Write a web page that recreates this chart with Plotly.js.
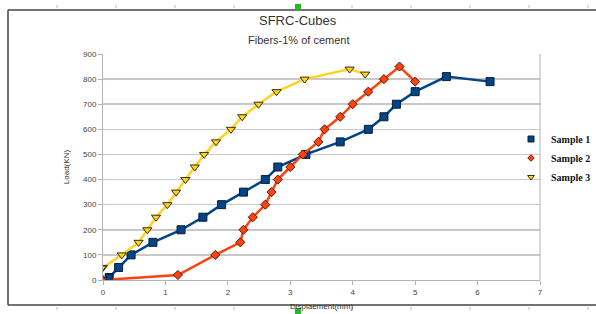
<!DOCTYPE html>
<html><head><meta charset="utf-8">
<script src="https://cdn.plot.ly/plotly-3.0.1.min.js"></script>
<style>html,body{margin:0;padding:0;background:#fff;}#chart{width:596px;height:314px;}</style>
</head><body><div id="chart"></div>
<script>
// Data
const seriesNames = ["Sample 1", "Sample 2", "Sample 3"];
const sample1X = [0.1, 0.25, 0.45, 0.8, 1.25, 1.6, 1.9, 2.25, 2.6, 2.8, 3.25, 3.8, 4.25, 4.5, 4.7, 5.0, 5.5, 6.2];
const sample1Y = [10, 50, 100, 150, 200, 250, 300, 350, 400, 450, 500, 550, 600, 650, 700, 750, 810, 790];
const sample2X = [0, 1.2, 1.8, 2.2, 2.25, 2.4, 2.6, 2.7, 2.8, 3.0, 3.2, 3.45, 3.55, 3.8, 4.0, 4.25, 4.5, 4.75, 5.0];
const sample2Y = [0, 20, 100, 150, 200, 250, 300, 350, 400, 450, 500, 550, 600, 650, 700, 750, 800, 850, 790];
const sample3X = [0, 0.3, 0.57, 0.71, 0.85, 1.03, 1.17, 1.32, 1.47, 1.62, 1.81, 2.05, 2.23, 2.49, 2.78, 3.23, 3.95, 4.2];
const sample3Y = [50, 100, 150, 200, 250, 300, 350, 400, 450, 500, 550, 600, 650, 700, 750, 800, 840, 820];
const xTicks = [0, 1, 2, 3, 4, 5, 6, 7];
const yTicks = [0, 100, 200, 300, 400, 500, 600, 700, 800, 900];

const styles = [
  {color: '#004586', symbol: 'square', size: 8, edge: '#0a1f3a'},
  {color: '#ff420e', symbol: 'diamond', size: 7, edge: '#5a1a08'},
  {color: '#ffd320', symbol: 'triangle-down', size: 8, edge: '#3a3000'}
];
const xs = [sample1X, sample2X, sample3X];
const ys = [sample1Y, sample2Y, sample3Y];

const traces = [];
xs.forEach((x, i) => {
  const s = styles[i];
  traces.push({x: x, y: ys[i], name: seriesNames[i], legendgroup: 'g' + i, showlegend: false,
    mode: 'lines+markers', type: 'scatter',
    line: {color: s.color, width: 2.5},
    marker: {symbol: s.symbol, size: s.size, color: s.color, line: {color: s.edge, width: 1}}});
});
xs.forEach((x, i) => {
  const s = styles[i];
  traces.push({x: [x[0]], y: [ys[i][0]], name: seriesNames[i], legendgroup: 'g' + i, showlegend: true,
    mode: 'markers', type: 'scatter', hoverinfo: 'skip',
    marker: {symbol: s.symbol, size: s.size - 2, color: s.color, line: {color: s.edge, width: 1}}});
});

// paper coordinate helpers (plot area: x 103..540, y 54..280 px)
const L = 103, R = 540, T = 54, B = 280;
const px = v => (v - L) / (R - L);
const py = v => (B - v) / (B - T);

const shapes = [
  {type: 'line', xref: 'paper', yref: 'paper', x0: px(8), x1: px(8), y0: py(10), y1: py(305), line: {color: '#444', width: 1.5}},
  {type: 'line', xref: 'paper', yref: 'paper', x0: px(8), x1: px(600), y0: py(10), y1: py(10), line: {color: '#444', width: 1.5}},
  {type: 'line', xref: 'paper', yref: 'paper', x0: px(8), x1: px(600), y0: py(305), y1: py(305), line: {color: '#444', width: 1.5}},
  {type: 'rect', xref: 'paper', yref: 'paper', x0: px(295), x1: px(301), y0: py(4), y1: py(10), fillcolor: '#22bb22', line: {width: 0}},
  {type: 'rect', xref: 'paper', yref: 'paper', x0: px(295), x1: px(301), y0: py(308), y1: py(314), fillcolor: '#22bb22', line: {width: 0}},
  {type: 'line', xref: 'paper', yref: 'paper', x0: 1, x1: 1, y0: 0, y1: 1, line: {color: '#b3b3b3', width: 1}}
];
[57, 116, 175, 234, 352, 411, 470, 529, 588].forEach(t => {
  shapes.push({type: 'line', xref: 'paper', yref: 'paper', x0: px(t), x1: px(t), y0: py(5), y1: py(8), line: {color: '#bbb', width: 1}});
  shapes.push({type: 'line', xref: 'paper', yref: 'paper', x0: px(t), x1: px(t), y0: py(307), y1: py(310), line: {color: '#bbb', width: 1}});
});

const layout = {
  width: 596, height: 314,
  margin: {l: L, r: 596 - R, t: T, b: 314 - B, autoexpand: false},
  paper_bgcolor: '#fff', plot_bgcolor: '#fff',
  font: {family: 'Liberation Sans, Arial, sans-serif', color: '#333', size: 8},
  showlegend: true,
  legend: {x: px(511), y: py(158), xanchor: 'left', yanchor: 'middle', bgcolor: 'rgba(0,0,0,0)',
           font: {family: 'Liberation Serif, Times New Roman, serif', size: 10, color: '#111', weight: 'bold'},
           itemwidth: 30, tracegroupgap: 0},
  xaxis: {range: [0, 7], tickvals: xTicks, showgrid: false, zeroline: false,
          showline: true, linecolor: '#b3b3b3', linewidth: 1,
          ticks: 'outside', ticklen: 4, tickcolor: '#b3b3b3',
          tickfont: {size: 8, color: '#444'},
          title: {text: 'Displaement(mm)', font: {size: 8, color: '#333'}, standoff: 7}},
  yaxis: {range: [0, 900], tickvals: yTicks, showgrid: true, gridcolor: '#c8c8c8', gridwidth: 1.5,
          zeroline: false, showline: true, linecolor: '#b3b3b3', linewidth: 1,
          ticks: 'outside', ticklen: 4, tickcolor: '#b3b3b3',
          tickfont: {size: 8, color: '#444'},
          title: {text: 'Load(KN)', font: {size: 8, color: '#333'}, standoff: 12}},
  annotations: [
    {text: 'SFRC-Cubes', xref: 'paper', yref: 'paper', x: px(298), y: py(20), showarrow: false,
     font: {size: 13, color: '#333'}, xanchor: 'center', yanchor: 'middle'},
    {text: 'Fibers-1% of cement', xref: 'paper', yref: 'paper', x: px(298), y: py(40), showarrow: false,
     font: {size: 11, color: '#333'}, xanchor: 'center', yanchor: 'middle'}
  ],
  shapes: shapes
};

Plotly.newPlot('chart', traces, layout, {displayModeBar: false, staticPlot: true});
</script></body></html>
